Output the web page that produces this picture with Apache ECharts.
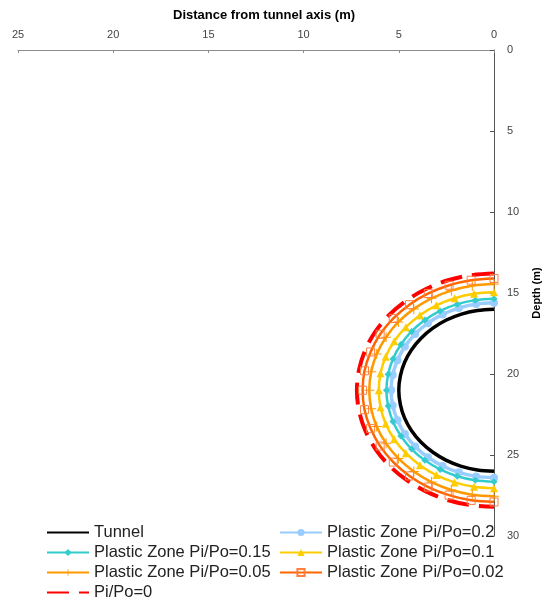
<!DOCTYPE html>
<html>
<head>
<meta charset="utf-8">
<script src="https://cdn.jsdelivr.net/npm/echarts@6/dist/echarts.min.js"></script>
<style>
  html, body { margin: 0; padding: 0; background: #fff; overflow: hidden; }
  #chart { width: 544px; height: 599px; }
</style>
</head>
<body>
<div id="chart"></div>
<script>
// Horizontal distance from the tunnel axis (m) and depth (m) for each boundary
const tunnelX     = [0, 0.87, 1.71, 2.50, 3.21, 3.83, 4.33, 4.70, 4.92, 5.00, 4.92, 4.70, 4.33, 3.83, 3.21, 2.50, 1.71, 0.87, 0];
const tunnelDepth = [16.00, 16.08, 16.30, 16.67, 17.17, 17.79, 18.50, 19.29, 20.13, 21.00, 21.87, 22.71, 23.50, 24.21, 24.83, 25.33, 25.70, 25.92, 26.00];

const pz020X     = [0, 0.94, 1.85, 2.70, 3.47, 4.14, 4.68, 5.07, 5.32, 5.40, 5.32, 5.07, 4.68, 4.14, 3.47, 2.70, 1.85, 0.94, 0];
const pz020Depth = [15.60, 15.68, 15.93, 16.32, 16.86, 17.53, 18.30, 19.15, 20.06, 21.00, 21.94, 22.85, 23.70, 24.47, 25.14, 25.68, 26.07, 26.32, 26.40];

const pz015X     = [0, 0.98, 1.93, 2.83, 3.63, 4.33, 4.89, 5.31, 5.56, 5.65, 5.56, 5.31, 4.89, 4.33, 3.63, 2.83, 1.93, 0.98, 0];
const pz015Depth = [15.35, 15.44, 15.69, 16.11, 16.67, 17.37, 18.18, 19.07, 20.02, 21.00, 21.98, 22.93, 23.83, 24.63, 25.33, 25.89, 26.31, 26.56, 26.65];

const pz010X     = [0, 1.05, 2.07, 3.03, 3.89, 4.63, 5.24, 5.69, 5.96, 6.05, 5.96, 5.69, 5.24, 4.63, 3.89, 3.03, 2.07, 1.05, 0];
const pz010Depth = [14.95, 15.04, 15.32, 15.76, 16.37, 17.11, 17.98, 18.93, 19.95, 21.00, 22.05, 23.07, 24.03, 24.89, 25.63, 26.24, 26.69, 26.96, 27.05];

const pz005X     = [0, 1.14, 2.24, 3.28, 4.21, 5.02, 5.67, 6.16, 6.45, 6.55, 6.45, 6.16, 5.67, 5.02, 4.21, 3.28, 2.24, 1.14, 0];
const pz005Depth = [14.45, 14.55, 14.85, 15.33, 15.98, 16.79, 17.73, 18.76, 19.86, 21.00, 22.14, 23.24, 24.28, 25.21, 26.02, 26.67, 27.16, 27.45, 27.55];

const pz002X     = [0, 1.20, 2.36, 3.45, 4.44, 5.29, 5.98, 6.48, 6.80, 6.90, 6.80, 6.48, 5.98, 5.29, 4.44, 3.45, 2.36, 1.20, 0];
const pz002Depth = [14.10, 14.21, 14.52, 15.03, 15.72, 16.57, 17.55, 18.64, 19.80, 21.00, 22.20, 23.36, 24.45, 25.44, 26.29, 26.98, 27.48, 27.80, 27.90];

const pz000X     = [0, 1.25, 2.46, 3.60, 4.63, 5.52, 6.24, 6.77, 7.09, 7.20, 7.09, 6.77, 6.24, 5.52, 4.63, 3.60, 2.46, 1.25, 0];
const pz000Depth = [13.80, 13.91, 14.23, 14.77, 15.49, 16.37, 17.40, 18.54, 19.75, 21.00, 22.25, 23.46, 24.60, 25.63, 26.51, 27.23, 27.77, 28.09, 28.20];

const seriesNames = [
  'Tunnel',
  'Plastic Zone Pi/Po=0.2',
  'Plastic Zone Pi/Po=0.15',
  'Plastic Zone Pi/Po=0.1',
  'Plastic Zone Pi/Po=0.05',
  'Plastic Zone Pi/Po=0.02',
  'Pi/Po=0'
];

function pairs(xs, ds) { return xs.map((x, i) => [x, ds[i]]); }

const FONT = '"Liberation Sans", Arial, sans-serif';
const plusPath = 'path://M4.5,0h1v4.5h4.5v1h-4.5v4.5h-1v-4.5h-4.5v-1h4.5z';
const NO_FILL = 'rgba(0,0,0,0)';

const chart = echarts.init(document.getElementById('chart'), null, { renderer: 'canvas', width: 544, height: 599 });

function lineSeries(name, xs, ds, color, width, symbol, size, extra) {
  return Object.assign({
    name: name,
    type: 'line',
    data: pairs(xs, ds),
    smooth: 0.35,
    symbol: symbol,
    symbolSize: size,
    showSymbol: true,
    lineStyle: { color: color, width: width },
    itemStyle: { color: color },
    animation: false
  }, extra || {});
}

const legendText = { fontFamily: FONT, fontSize: 16.5, lineHeight: 14, color: '#222' };

function legendColumn(left, names) {
  return {
    orient: 'vertical',
    left: left,
    top: 524,
    height: 140,
    padding: 0,
    itemWidth: 42,
    itemHeight: 9,
    itemGap: 3,
    textStyle: legendText,
    data: names
  };
}

const option = {
  backgroundColor: '#ffffff',
  animation: false,
  textStyle: { fontFamily: FONT },
  title: {
    text: 'Distance from tunnel axis (m)',
    left: 173,
    top: 9,
    padding: 0,
    textStyle: { fontFamily: FONT, fontSize: 13, fontWeight: 'bold', color: '#000' }
  },
  grid: { left: 18, right: 50, top: 50, bottom: 63, containLabel: false, outerBoundsMode: 'none' },
  xAxis: {
    type: 'value',
    position: 'top',
    inverse: true,
    min: 0,
    max: 25,
    interval: 5,
    axisLine: { show: true, lineStyle: { color: '#8c8c8c', width: 1 } },
    axisTick: { show: true, inside: true, length: 3, lineStyle: { color: '#8c8c8c' } },
    axisLabel: { color: '#444', fontSize: 11, margin: 10, fontFamily: FONT },
    splitLine: { show: false }
  },
  yAxis: {
    type: 'value',
    position: 'right',
    inverse: true,
    min: 0,
    max: 30,
    interval: 5,
    name: 'Depth (m)',
    nameLocation: 'middle',
    nameRotate: 90,
    nameGap: 37,
    nameTextStyle: { fontFamily: FONT, fontSize: 11, fontWeight: 'bold', color: '#000' },
    axisLine: { show: true, lineStyle: { color: '#555', width: 1 } },
    axisTick: { show: true, inside: true, length: 4, lineStyle: { color: '#555' } },
    axisLabel: { color: '#444', fontSize: 11, margin: 13, fontFamily: FONT },
    splitLine: { show: false }
  },
  legend: [
    legendColumn(46, [seriesNames[0], seriesNames[2], seriesNames[4], seriesNames[6]]),
    legendColumn(279, [seriesNames[1], seriesNames[3], seriesNames[5]])
  ],
  series: [
    lineSeries(seriesNames[0], tunnelX, tunnelDepth, '#000000', 3.5, 'circle', 0, {
      showSymbol: false,
      itemStyle: { color: NO_FILL, borderWidth: 0 }
    }),
    lineSeries(seriesNames[1], pz020X, pz020Depth, '#99CCFF', 3.5, 'circle', 8),
    lineSeries(seriesNames[2], pz015X, pz015Depth, '#33CCCC', 2.5, 'diamond', 7),
    lineSeries(seriesNames[3], pz010X, pz010Depth, '#FFCC00', 2.5, 'triangle', 8),
    lineSeries(seriesNames[4], pz005X, pz005Depth, '#FF9900', 2.5, plusPath, 10),
    lineSeries(seriesNames[5], pz002X, pz002Depth, '#FF6600', 2.5, 'rect', 8, {
      itemStyle: { color: NO_FILL, borderColor: '#FF7F40', borderWidth: 1 }
    }),
    lineSeries(seriesNames[6], pz000X, pz000Depth, '#FF0000', 4, 'circle', 0, {
      showSymbol: false,
      itemStyle: { color: NO_FILL, borderWidth: 0 },
      lineStyle: { color: '#FF0000', width: 4, type: [22, 10] }
    })
  ]
};

chart.setOption(option);
</script>
</body>
</html>
